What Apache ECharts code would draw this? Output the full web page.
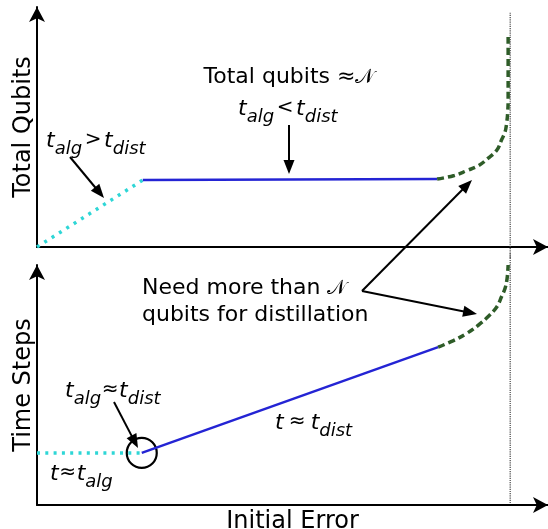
<!DOCTYPE html>
<html>
<head>
<meta charset="utf-8">
<script src="https://cdn.jsdelivr.net/npm/echarts@6/dist/echarts.min.js"></script>
<style>html,body{margin:0;padding:0;background:#fff}#c{width:548px;height:529px}</style>
</head>
<body>
<div id="c"></div>
<script>
// ---- data (schematic units: x 0..100, y 0..100) ----
const topRampX = [0, 20.7];
const topRampY = [0, 27.9];
const topFlatX = [20.7, 78.3];
const topFlatY = [27.9, 28.3];
const topRiseX = [78.3, 81.5, 84.1, 86.4, 88.3, 90.0, 90.9, 91.6, 91.9, 92.1, 92.2, 92.2, 92.2];
const topRiseY = [28.3, 29.7, 31.8, 33.9, 37.0, 40.4, 44.6, 48.0, 51.5, 55.7, 61.3, 75.1, 89.0];

const botFlatX = [0, 20.5];
const botFlatY = [21.7, 21.7];
const botSlopeX = [20.5, 78.5];
const botSlopeY = [21.7, 65.8];
const botRiseX = [78.5, 81.5, 84.1, 86.4, 88.3, 90.0, 90.9, 91.6, 92.0, 92.2];
const botRiseY = [65.8, 68.5, 71.5, 75.0, 78.5, 82.6, 86.8, 90.3, 94.5, 100.0];

const crossX = [20.5];
const crossY = [21.7];
const limitX = 92.6;
const topLimitY = [-4.6, 97.9];
const botLimitY = [0.8, 105];

const yTitles = ['Total Qubits', 'Time Steps'];
const xTitle = 'Initial Error';

const zip = (xs, ys) => xs.map((x, i) => [x, ys[i]]);

const CYAN = '#2ed6d6', BLUE = '#2424d4', GREEN = '#2e5c28';
const FONT = 'DejaVu Sans';

function axisCfg(idx, name, isY) {
  return {
    type: 'value', gridIndex: idx, min: 0, max: 100,
    axisLine: { show: true, symbol: ['none', 'arrow'], symbolSize: [12, 15],
      lineStyle: { color: '#000', width: 2 } },
    axisTick: { show: false }, axisLabel: { show: false }, splitLine: { show: false },
    name: name, nameLocation: 'middle', nameGap: isY ? 1 : 5,
    nameTextStyle: { fontFamily: FONT, fontSize: 24, color: '#000' }
  };
}

const rich = {
  t: { font: 'italic 22px "DejaVu Sans"', lineHeight: 14, verticalAlign: 'top', fill: '#000' },
  s: { font: 'italic 18px "DejaVu Sans"', lineHeight: 28, verticalAlign: 'bottom', fill: '#000' },
  o: { font: '20px "DejaVu Sans"', lineHeight: 20, verticalAlign: 'top', fill: '#000', align: 'center', width: 22 },
  o2: { font: '20px "DejaVu Sans"', lineHeight: 20, verticalAlign: 'top', fill: '#000', align: 'center', width: 18 },
  o3: { font: '20px "DejaVu Sans"', lineHeight: 20, verticalAlign: 'top', fill: '#000', align: 'center', width: 27 },
  p: { font: '22px "DejaVu Sans"', fill: '#000' },
  n: { font: '20px "DejaVu Sans"', fill: '#000' }
};
function richText(text, x, top) {
  return { type: 'text', x: x, y: top, style: { text: text, rich: rich, align: 'left', verticalAlign: 'top' } };
}
function plainText(text, x, y, align) {
  return { type: 'text', x: x, y: y, style: { text: text, rich: rich, font: '22px "DejaVu Sans"', fill: '#000', align: align, verticalAlign: 'middle' } };
}
function arrow(x1, y1, x2, y2) {
  const L = 14, W = 5.5;
  const dx = x2 - x1, dy = y2 - y1, d = Math.hypot(dx, dy);
  const ux = dx / d, uy = dy / d;
  const bx = x2 - ux * L, by = y2 - uy * L;
  return [
    { type: 'line', shape: { x1: x1, y1: y1, x2: bx + ux * 2, y2: by + uy * 2 }, style: { stroke: '#000', lineWidth: 2 } },
    { type: 'polygon', shape: { points: [[x2, y2], [bx - uy * W, by + ux * W], [bx + uy * W, by - ux * W]] }, style: { fill: '#000' } }
  ];
}

const graphics = [].concat(
  arrow(70, 157, 104, 198),
  arrow(289, 125, 289, 174),
  arrow(362, 291, 472, 180),
  arrow(362, 291, 477, 314),
  arrow(114, 402, 138, 448),
  [
    richText('{t|t}{s|alg}{o|>}{t|t}{s|dist}', 46, 130),
    plainText('{p|Total qubits \u2248}{n|\uD835\uDCA9}', 289, 77.5, 'center'),
    richText('{t|t}{s|alg}{o|<}{t|t}{s|dist}', 238, 98),
    plainText('{p|Need more than }{n|\uD835\uDCA9}', 142, 288.5, 'left'),
    plainText('{p|qubits for distillation}', 142, 315.7, 'left'),
    richText('{t|t}{s|alg}{o2|\u2248}{t|t}{s|dist}', 65, 380),
    richText('{t|t}{o3|\u2248}{t|t}{s|dist}', 275, 412),
    richText('{t|t}{o2|\u2248}{t|t}{s|alg}', 50, 463)
  ]
);

function lineSeries(idx, data, color, width, type, smooth) {
  return { type: 'line', xAxisIndex: idx, yAxisIndex: idx, data: data, showSymbol: false, symbol: 'none',
    smooth: smooth || false, clip: false, silent: true,
    lineStyle: { color: color, width: width, type: type, cap: 'butt' } };
}

const option = {
  animation: false,
  backgroundColor: '#fff',
  grid: [
    { left: 37, right: 0, top: 7, bottom: 282, outerBoundsMode: 'none', containLabel: false },
    { left: 37, right: 0, top: 265, bottom: 24, outerBoundsMode: 'none', containLabel: false }
  ],
  xAxis: [axisCfg(0, '', false), axisCfg(1, xTitle, false)],
  yAxis: [axisCfg(0, yTitles[0], true), axisCfg(1, yTitles[1], true)],
  series: [
    lineSeries(0, [[limitX, topLimitY[0]], [limitX, topLimitY[1]]], '#444', 1.2, [1.2, 1]),
    lineSeries(1, [[limitX, botLimitY[0]], [limitX, botLimitY[1]]], '#444', 1.2, [1.2, 1]),
    lineSeries(0, zip(topRampX, topRampY), CYAN, 3.5, [3, 5.7]),
    lineSeries(0, zip(topFlatX, topFlatY), BLUE, 2.5, 'solid'),
    lineSeries(0, zip(topRiseX, topRiseY), GREEN, 3.5, [7, 4], 0.4),
    lineSeries(1, zip(botFlatX, botFlatY), CYAN, 3.5, [3, 5.3]),
    lineSeries(1, zip(botSlopeX, botSlopeY), BLUE, 2.5, 'solid'),
    lineSeries(1, zip(botRiseX, botRiseY), GREEN, 3.5, [7, 4], 0.4),
    { type: 'scatter', xAxisIndex: 1, yAxisIndex: 1, data: zip(crossX, crossY), symbol: 'circle', symbolSize: 30,
      silent: true, itemStyle: { color: 'rgba(0,0,0,0)', borderColor: '#000', borderWidth: 2.2, opacity: 1 } }
  ],
  graphic: graphics
};
echarts.init(document.getElementById('c')).setOption(option);
</script>
</body>
</html>
